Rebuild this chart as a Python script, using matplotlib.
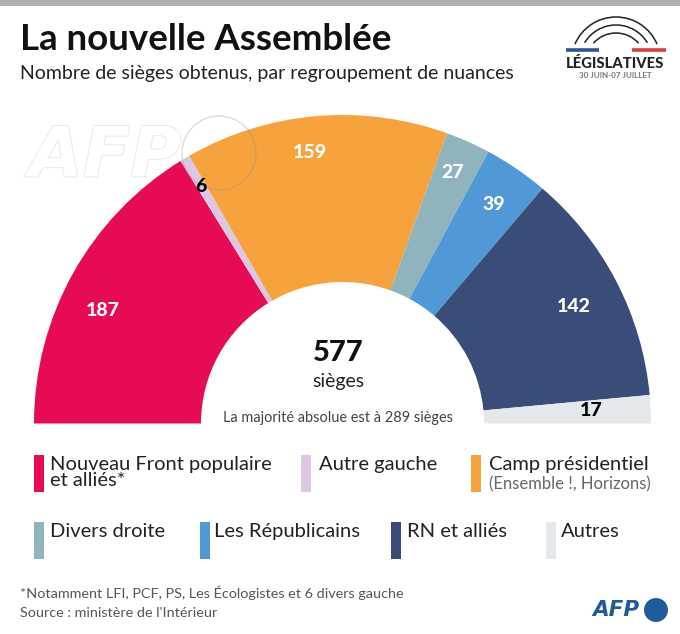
import matplotlib
matplotlib.use('Agg')
import matplotlib.pyplot as plt
from matplotlib.patches import Rectangle, Circle, Arc
import matplotlib.patheffects as pe

plt.rcParams['font.family'] = ['Lato', 'DejaVu Sans']

# seats by group, left to right
groups = ['Nouveau Front populaire\net alliés*', 'Autre gauche', 'Camp présidentiel', 'Divers droite',
          'Les Républicains', 'RN et alliés', 'Autres']
seats = [187, 6, 159, 27, 39, 142, 17]
colors = ['#E70A54', '#DCC8E2', '#F6A33E', '#8FB4BD', '#5099D6', '#3A4D78', '#E4E8EB']
label_colors = ['white', 'black', 'white', 'white', 'white', 'white', 'black']
label_pos = [(103, 310), (201, 186), (310, 152), (453, 173), (494, 204), (574, 307), (591, 411)]

# legend layout, pixels
swatch_x = [34, 301, 471, 34, 200, 391, 546]
swatch_y = [455, 455, 455, 522, 522, 522, 522]
text_x = [50, 319, 489, 50, 214, 407, 561]

cx, cy = 342.5, 423.5
r_out, r_in = 308.5, 141.5

fig = plt.figure(figsize=(6.8, 6.34), dpi=100)
ax = fig.add_axes([0, 0, 1, 1])


def py(y):
    return 634 - y


# half donut: hidden wedge takes the lower half
wedges, _ = ax.pie(seats + [sum(seats)], colors=colors + ['none'], startangle=180, counterclock=False,
                   center=(cx, py(cy)), radius=r_out, wedgeprops=dict(width=r_out - r_in, linewidth=0))
ax.set_xlim(0, 680)
ax.set_ylim(0, 634)
ax.set_aspect('auto')
ax.axis('off')

# top bar
ax.add_patch(Rectangle((0, py(6)), 680, 6, color='#B0B0B0', lw=0))

ax.text(20, py(39), 'La nouvelle Assemblée', fontsize=26.4, fontweight='bold', color='#111111', va='center')
ax.text(20, py(74), 'Nombre de sièges obtenus, par regroupement de nuances', fontsize=14, color='#222222', va='center')

# logo législatives
for r, yc, a in [(44.6, 61.6, 23), (36.6, 61.6, 31), (30, 63, 41)]:
    ax.add_patch(Arc((616, py(yc)), 2 * r, 2 * r, theta1=a, theta2=180 - a, color='#222222', lw=1.1))
ax.plot([566, 599], [py(49.5), py(49.5)], color='#2B5596', lw=2.6, solid_capstyle='butt')
ax.plot([632, 666], [py(49.5), py(49.5)], color='#DD3A41', lw=2.6, solid_capstyle='butt')
ax.text(615.5, py(64), 'LÉGISLATIVES', fontsize=10.6, fontweight='black', color='#222222', ha='center', va='center')
ax.text(615, py(76), '30 JUIN-07 JUILLET', fontsize=5.8, fontweight='bold', color='#777777', ha='center', va='center')

# AFP watermark
halo = [pe.withStroke(linewidth=1.2, foreground='#E6E6E6')]
ax.add_patch(Circle((219, py(153)), 37, fc='none', ec='#8A8A8A', alpha=0.3, lw=1, zorder=3))
ax.text(29, py(157), 'AFP', fontsize=50, fontweight='bold', style='oblique', family='DejaVu Sans', color='white',
        va='center', path_effects=halo, zorder=1)

# seat counts
for s, c, (x, y) in zip(seats, label_colors, label_pos):
    ax.text(x, py(y), str(s), color=c, fontsize=14, fontweight='black', ha='center', va='center', zorder=4)

# centre
ax.text(338, py(353), '577', fontsize=21, fontweight='black', color='#111111', ha='center', va='center')
ax.text(338, py(381), 'sièges', fontsize=14, color='#222222', ha='center', va='center')
ax.text(338, py(418), 'La majorité absolue est à 289 sièges', fontsize=10.45, color='#444444', ha='center', va='center')

# legend
for name, col, sx, sy, tx in zip(groups, colors, swatch_x, swatch_y, text_x):
    ax.add_patch(Rectangle((sx, py(sy + 37)), 10, 37, color=col, lw=0))
    ax.text(tx, py(sy + 1), name, fontsize=14.5, color='#222222', va='top', linespacing=0.95)
ax.text(489, py(484), '(Ensemble !, Horizons)', fontsize=12, color='#666666', va='center')

# footer
ax.text(20, py(593), '*Notamment LFI, PCF, PS, Les Écologistes et 6 divers gauche', fontsize=10.4, color='#555555', va='center')
ax.text(20, py(613), "Source : ministère de l'Intérieur", fontsize=10.4, color='#555555', va='center')
ax.text(592, py(610), 'AFP', fontsize=15.5, fontweight='bold', style='oblique', family='DejaVu Sans', color='#1F5C99', va='center')
ax.add_patch(Circle((656, py(610)), 12, color='#1F5C99', lw=0))

fig.savefig('out.png', dpi=100)
